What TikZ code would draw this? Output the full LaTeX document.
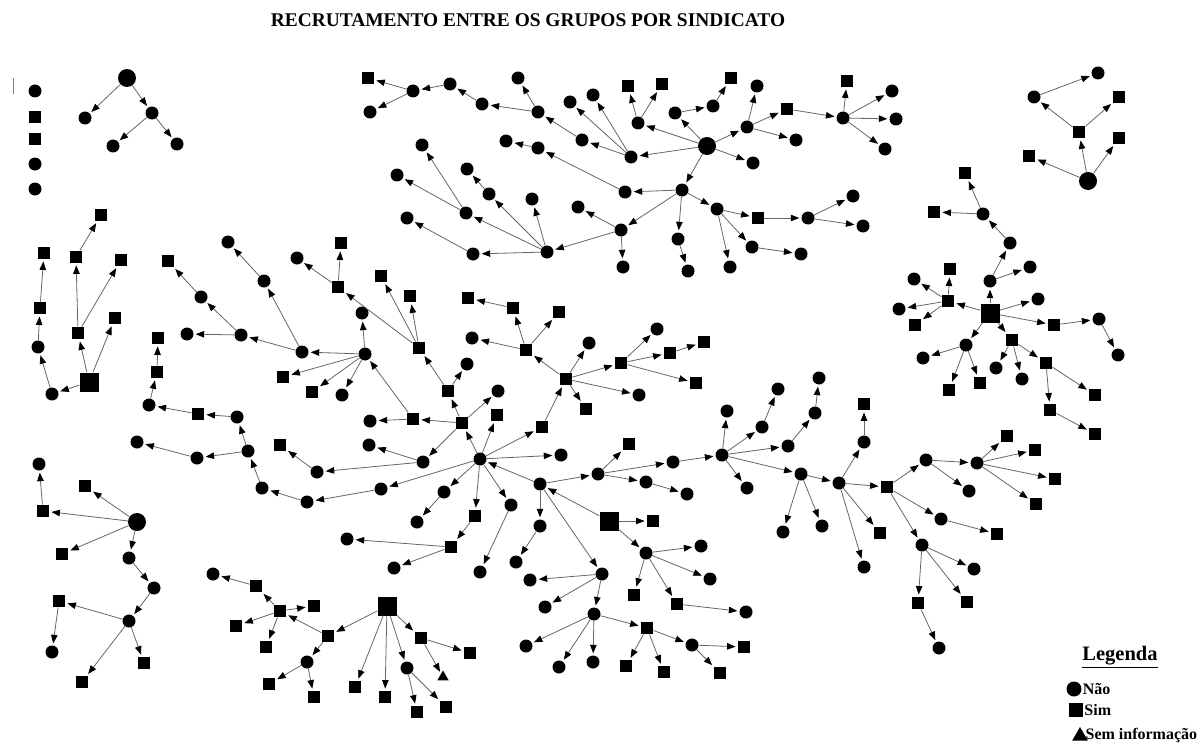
\documentclass[tikz,border=0pt]{standalone}
\usepackage{fontspec}
\setmainfont{Liberation Serif}
\usepackage{tikz}
\usetikzlibrary{arrows.meta,positioning,shapes.geometric}

\tikzset{
  nao/.style={circle,fill=black,inner sep=0pt,minimum size=13pt},
  naobig/.style={circle,fill=black,inner sep=0pt,minimum size=18pt},
  sim/.style={rectangle,fill=black,inner sep=0pt,minimum size=12.5pt},
  simbig/.style={rectangle,fill=black,inner sep=0pt,minimum size=19pt},
  seminfo/.style={regular polygon,regular polygon sides=3,fill=black,inner sep=0pt,minimum size=13pt},
  seta/.style={draw=black!60,line width=0.8pt,shorten >=2pt,-{Triangle[length=8.5pt,width=6.5pt,color=black]}},
  legtxt/.style={inner sep=0pt,font=\bfseries\fontsize{16}{18}\selectfont}
}

\begin{document}
\begin{tikzpicture}[x=1pt,y=-1pt]
\fill[white] (0,0) rectangle (1204,749);
\useasboundingbox (0,0) rectangle (1204,749);
\node[font=\bfseries\fontsize{19.4}{22}\selectfont] (titulo) at (528,20) {RECRUTAMENTO ENTRE OS GRUPOS POR SINDICATO};
\draw[black!50,line width=0.8pt] (13,78) -- (13,94);
% Nao (circles)
\foreach \n/\x/\y in {i1/35/91,i4/35/164,i5/35/189,
  a1/85/118,a2/152/113,a3/113/146,a4/177/144,
  b4/1034/97,b5/1098/73,
  c1/990/281,c2/1010/243,c3/1030/267,c4/983/214,c9/914/279,c10/899/309,c12/1038/299,
  c14/1099/319,c15/1118/355,c16/966/345,c17/923/358,c21/996/368,c22/1022/379,
  d1/638/123,d4/675/113,d5/713/106,d7/747/127,d8/757/86,d10/796/140,d11/843/118,
  d13/892/91,d14/896/119,d15/885/149,d16/753/163,d17/631/157,d18/593/95,d19/570/102,
  d20/582/140,d21/538/112,d22/518/78,d23/482/104,d24/450/84,d25/413/91,d27/370/112,
  d28/682/190,d29/625/192,d30/538/148,d31/506/141,d32/621/230,d33/578/207,d34/623/267,
  d35/547/252,d36/473/254,d37/407/218,d38/466/213,d39/397/175,d40/422/145,d41/489/194,
  d42/467/169,d43/532/199,d44/678/239,d45/688/271,d46/717/209,d48/808/218,d49/853/196,
  d50/863/226,d51/752/247,d52/801/254,d53/730/267,
  e1/52/394,e2/38/347,
  f2/39/464,f5/129/558,f6/154/588,f7/129/621,f9/52/652,
  g4/213/574,g8/307/662,g13/407/668,
  h0/480/459,h8/297/258,h9/467/364,h11/370/421,h12/365/354,h13/362/313,h14/302/352,
  h17/342/395,h18/264/281,h19/228/242,h20/241/335,h21/187/334,h22/201/297,h24/498/391,
  h25/423/462,h26/369/445,h27/317/472,h36/472/338,h37/589/343,h40/657/329,h44/639/395,
  h45/561/455,h46/381/489,h47/307/502,h48/262/488,h49/248/451,h50/197/458,h51/137/442,
  h52/237/417,h54/149/405,h57/444/492,h58/417/522,h61/347/539,h62/394/568,h63/511/505,
  h64/480/572,h65/540/484,h66/540/526,h67/516/562,h70/646/553,h71/701/546,h72/710/579,
  h75/746/612,h76/602/574,h77/530/580,h78/545/607,h79/594/614,h80/526/646,h81/559/667,
  h82/593/662,h86/692/645,h89/598/474,h91/673/462,h92/646/482,h93/687/494,h94/722/455,
  h95/727/411,h96/762/427,h97/778/389,h98/788/446,h99/815/413,h100/819/378,h101/747/488,
  h102/801/474,h103/783/532,h104/822/526,h105/839/483,h106/864/442,h109/864/567,
  h111/926/460,h112/977/463,h113/969/491,h118/941/519,h120/922/545,h121/974/569,h124/939/648}
  \node[nao] (\n) at (\x,\y) {};
\foreach \n/\x/\y in {a0/127/78,b0/1088/181,d0/707/146,f0/137/522}
  \node[naobig] (\n) at (\x,\y) {};
% Sim (squares)
\foreach \n/\x/\y in {i2/35/117,i3/35/139,
  b1/1029/156,b2/1079/132,b3/1119/138,b6/1119/97,
  c5/965/173,c6/934/212,c7/948/301,c8/950/269,c11/915/325,c13/1054/325,c18/949/390,
  c19/980/383,c20/1012/340,c23/1046/363,c24/1095/395,c25/1050/410,c26/1095/434,
  d2/628/86,d3/662/84,d6/731/78,d9/787/109,d12/847/81,d26/368/78,d47/758/218,
  e3/40/308,e4/44/253,e5/78/333,e6/76/257,e7/121/260,e8/101/215,e9/115/318,
  f1/43/511,f3/85/486,f4/62/554,f8/59/601,f10/144/663,f11/82/682,
  g1/328/636,g2/280/611,g3/256/586,g5/314/606,g6/236/626,g7/266/647,g9/269/684,
  g10/314/697,g11/355/687,g12/385/697,g14/417/712,g15/446/707,g16/421/638,g17/470/653,
  h1/462/423,h2/448/391,h3/419/348,h4/381/276,h5/410/296,h6/338/287,h7/341/243,
  h10/413/419,h15/283/377,h16/312/392,h23/168/261,h28/280/445,h29/497/415,h30/542/427,
  h31/566/379,h32/526/350,h33/513/308,h34/468/298,h35/559/312,h38/586/409,h39/621/363,
  h41/670/353,h42/704/342,h43/696/383,h53/198/414,h55/157/372,h56/158/338,h59/475/516,
  h60/451/547,h69/653/521,h73/634/595,h74/677/604,h83/647/628,h84/626/666,h85/664/672,
  h87/744/647,h88/720/673,h90/629/444,h107/864/404,h108/880/533,h110/887/487,
  h114/1007/436,h115/1035/450,h116/1055/479,h117/1036/504,h119/997/534,h122/967/602,
  h123/918/603}
  \node[sim] (\n) at (\x,\y) {};
\foreach \n/\x/\y in {c0/990/313,e0/89/382,g0/387/606,h68/609/521}
  \node[simbig] (\n) at (\x,\y) {};
% Sem informacao
\node[seminfo] (g18) at (443,677) {};
% recruitment arrows
\foreach \s/\t in {a0/a1,a0/a2,a2/a3,a2/a4,
  b0/b1,b0/b2,b0/b3,b2/b4,b2/b6,b4/b5,
  c0/c1,c1/c2,c1/c3,c2/c4,c4/c5,c4/c6,c0/c7,c7/c8,c7/c9,c7/c10,c7/c11,c0/c12,c0/c13,
  c13/c14,c14/c15,c0/c16,c16/c17,c16/c18,c16/c19,c0/c20,c20/c21,c20/c22,c20/c23,
  c23/c24,c23/c25,c25/c26,
  d0/d1,d1/d2,d1/d3,d0/d4,d4/d5,d5/d6,d0/d7,d7/d8,d7/d9,d7/d10,d9/d11,d11/d12,d11/d13,
  d11/d14,d11/d15,d0/d16,d0/d17,d17/d18,d17/d19,d17/d20,d20/d21,d21/d22,d21/d23,
  d23/d24,d24/d25,d25/d26,d25/d27,d0/d28,d28/d29,d29/d30,d30/d31,d28/d32,d32/d33,
  d32/d34,d32/d35,d35/d36,d36/d37,d35/d38,d38/d39,d38/d40,d35/d41,d41/d42,d35/d43,
  d28/d44,d44/d45,d28/d46,d46/d47,d47/d48,d48/d49,d48/d50,d46/d51,d51/d52,d46/d53,
  e0/e1,e1/e2,e2/e3,e3/e4,e0/e5,e5/e6,e5/e7,e6/e8,e0/e9,
  f0/f1,f1/f2,f0/f3,f0/f4,f0/f5,f5/f6,f6/f7,f7/f8,f8/f9,f7/f10,f7/f11,
  g0/g1,g1/g2,g2/g3,g3/g4,g2/g5,g2/g6,g2/g7,g1/g8,g8/g9,g8/g10,g0/g11,g0/g12,g0/g13,
  g13/g14,g13/g15,g0/g16,g16/g17,g16/g18,
  h0/h1,h1/h2,h2/h3,h3/h4,h3/h5,h3/h6,h6/h7,h6/h8,h2/h9,h1/h10,h10/h11,h10/h12,
  h12/h13,h12/h14,h12/h15,h12/h16,h12/h17,h14/h18,h18/h19,h14/h20,h20/h21,h20/h22,
  h22/h23,h1/h24,h1/h25,h25/h26,h25/h27,h27/h28,h0/h29,h0/h30,h30/h31,h31/h32,
  h32/h33,h33/h34,h32/h35,h32/h36,h31/h37,h31/h38,h31/h39,h39/h40,h39/h41,h41/h42,
  h39/h43,h31/h44,h0/h45,h0/h46,h46/h47,h47/h48,h48/h49,h49/h50,h50/h51,h49/h52,
  h52/h53,h53/h54,h54/h55,h55/h56,h0/h57,h57/h58,h0/h59,h59/h60,h60/h61,h60/h62,
  h0/h63,h63/h64,h65/h0,h65/h66,h66/h67,h68/h65,h68/h69,h68/h70,h70/h71,h70/h72,
  h70/h73,h70/h74,h74/h75,h65/h76,h76/h77,h76/h78,h76/h79,h79/h80,h79/h81,h79/h82,
  h79/h83,h83/h84,h83/h85,h83/h86,h86/h87,h86/h88,h65/h89,h89/h90,h89/h91,h89/h92,
  h92/h93,h91/h94,h94/h95,h94/h96,h96/h97,h94/h98,h98/h99,h99/h100,h94/h101,h94/h102,
  h102/h103,h102/h104,h102/h105,h105/h106,h106/h107,h105/h108,h105/h109,h105/h110,
  h110/h111,h111/h112,h111/h113,h112/h114,h112/h115,h112/h116,h112/h117,h110/h118,
  h118/h119,h110/h120,h120/h121,h120/h122,h120/h123,h123/h124}
  \draw[seta] (\s) -- (\t);
% legend
\node[font=\bfseries\fontsize{20.5}{23}\selectfont,inner sep=0pt] (legenda) at (1120,657) {\underline{Legenda}};
\node[nao,minimum size=15pt] (lnao) at (1074,689) {};
\node[legtxt,right=1pt of lnao] (tnao) {Não};
\node[sim,minimum size=14pt] (lsim) at (1076,710) {};
\node[legtxt,right=1pt of lsim] (tsim) {Sim};
\node[seminfo,minimum size=18pt] (lsem) at (1080,736) {};
\node[legtxt,right=0pt of lsem] (tsem) {Sem informação};
\end{tikzpicture}
\end{document}
